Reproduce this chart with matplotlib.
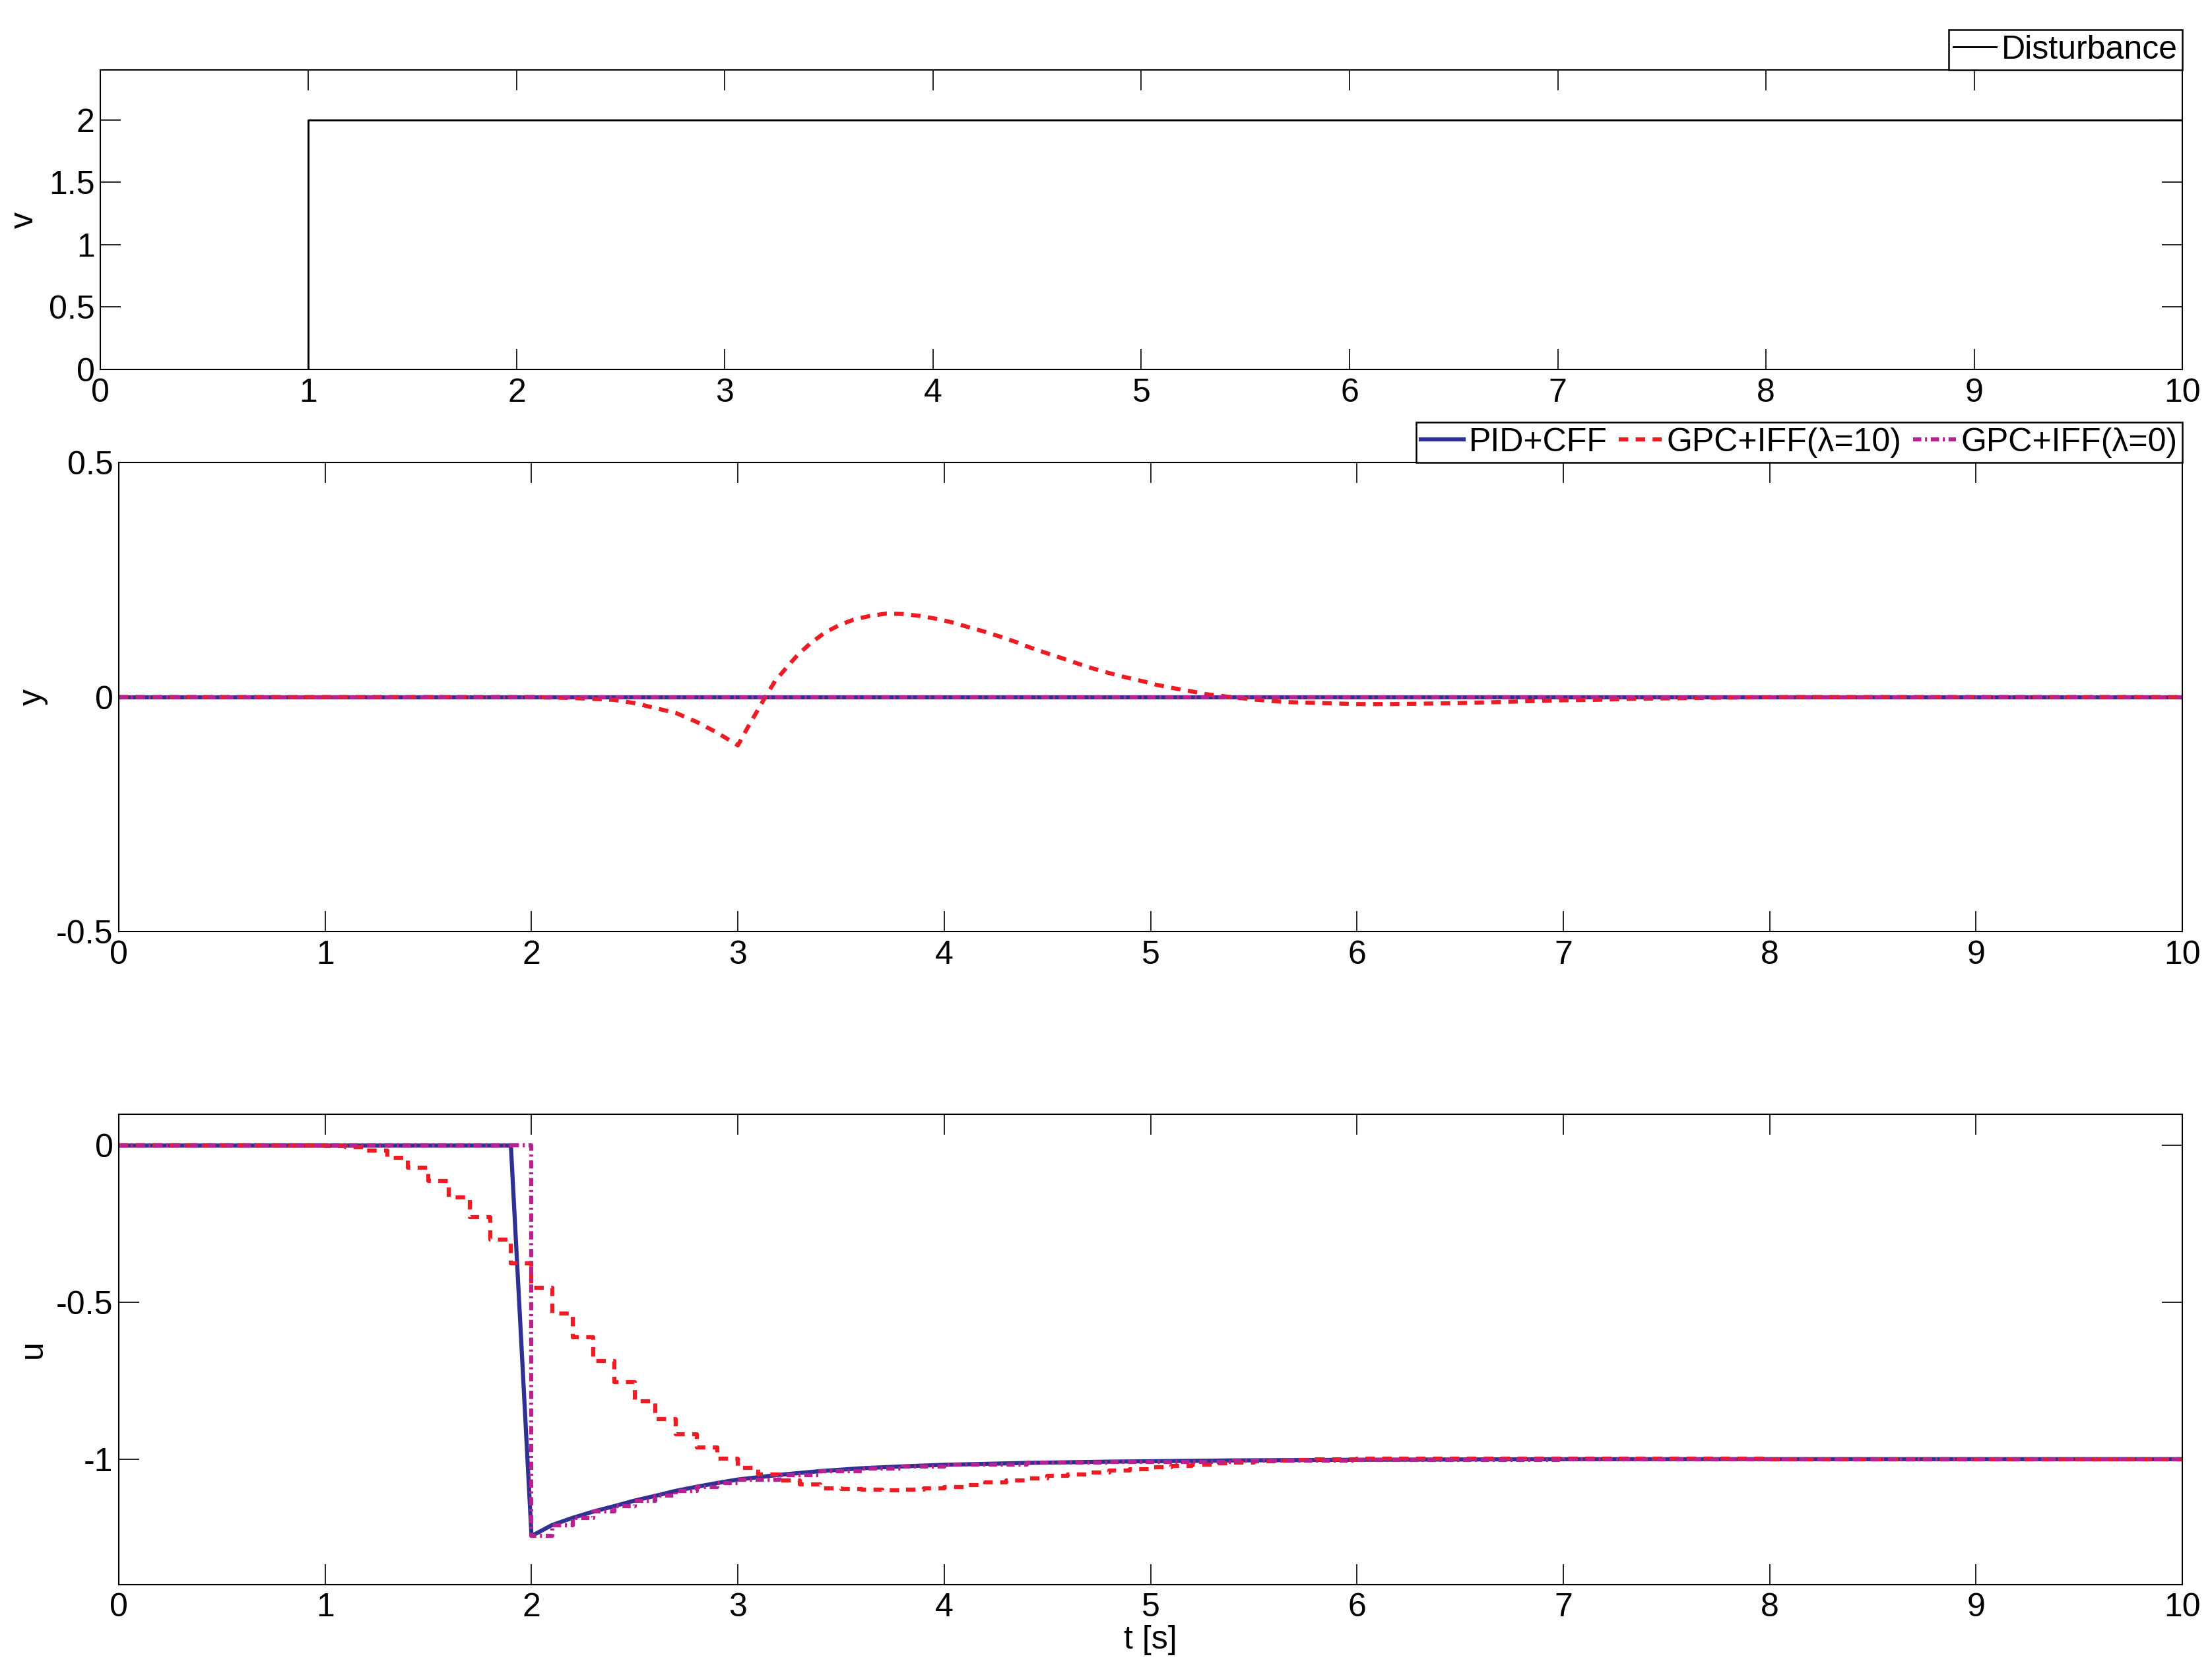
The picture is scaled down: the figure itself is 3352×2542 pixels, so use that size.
import matplotlib
matplotlib.use('Agg')
import matplotlib.pyplot as plt

plt.rcParams['font.family'] = ['Liberation Sans', 'DejaVu Sans']
plt.rcParams['axes.unicode_minus'] = False

# disturbance (top panel)
dist_t = [0.1, 1.0, 10.0]
dist_v = [0.0, 2.0, 2.0]

# output y (middle panel)
y_zero_t = [0.0, 10.0]
y_zero_v = [0.0, 0.0]
y_gpc10_t = [0.0, 2.0, 2.2, 2.4, 2.5, 2.7, 2.8, 2.9, 3.0, 3.05, 3.1, 3.13, 3.18,
             3.24, 3.29, 3.35, 3.42, 3.49, 3.56, 3.64, 3.72, 3.8, 3.88, 3.96,
             4.04, 4.11, 4.19, 4.27, 4.35, 4.42, 4.5, 4.57, 4.65, 4.72, 4.8,
             4.88, 4.96, 5.03, 5.11, 5.2, 5.27, 5.35, 5.43, 5.52, 5.6, 5.68,
             5.84, 6.0, 6.17, 6.33, 6.49, 6.66, 6.82, 6.98, 7.15, 7.31, 7.47,
             7.64, 7.8, 8.1, 10.0]
y_gpc10_v = [0.0, 0.0, -0.002, -0.006, -0.013, -0.034, -0.053, -0.076, -0.103,
             -0.063, -0.025, -0.002, 0.034, 0.065, 0.090, 0.114, 0.137, 0.153,
             0.165, 0.173, 0.178, 0.177, 0.173, 0.167, 0.159, 0.150, 0.140,
             0.129, 0.117, 0.105, 0.093, 0.083, 0.071, 0.061, 0.051, 0.042,
             0.034, 0.026, 0.019, 0.012, 0.006, 0.002, -0.002, -0.006, -0.009,
             -0.011, -0.013, -0.015, -0.015, -0.014, -0.013, -0.011, -0.009,
             -0.007, -0.006, -0.004, -0.003, -0.002, -0.001, 0.0, 0.0]

# control u (bottom panel)
u_pid_t = [0.0, 1.9, 2.0, 2.1, 2.2, 2.3, 2.4, 2.5, 2.6, 2.7, 2.8, 2.9, 3.0,
           3.2, 3.4, 3.6, 3.8, 4.0, 4.4, 4.8, 5.4, 6.0, 7.0, 10.0]
u_pid_v = [0.0, 0.0, -1.245, -1.210, -1.187, -1.167, -1.150, -1.132, -1.117,
           -1.101, -1.088, -1.076, -1.065, -1.050, -1.038, -1.029, -1.023,
           -1.018, -1.012, -1.008, -1.004, -1.002, -1.0, -1.0]
u_gpc0_t = u_pid_t[1:]
u_gpc0_v = [0.0, -1.245, -1.210, -1.187, -1.167, -1.150, -1.132, -1.117,
            -1.101, -1.088, -1.076, -1.065, -1.050, -1.038, -1.029, -1.023,
            -1.018, -1.012, -1.008, -1.004, -1.002, -1.0, -1.0]
u_gpc10_t = [0.0, 1.0, 1.1, 1.2, 1.3, 1.4, 1.5, 1.6, 1.7, 1.8, 1.9, 2.0, 2.1,
             2.2, 2.3, 2.4, 2.5, 2.6, 2.7, 2.8, 2.9, 3.0, 3.1, 3.2, 3.3, 3.4,
             3.5, 3.6, 3.7, 3.8, 3.9, 4.0, 4.1, 4.2, 4.3, 4.4, 4.5, 4.6, 4.7,
             4.8, 4.9, 5.0, 5.1, 5.2, 5.3, 5.4, 5.5, 5.6, 5.7, 5.8, 5.9, 6.0,
             8.0, 10.0]
u_gpc10_v = [0.0, -0.001, -0.005, -0.016, -0.038, -0.070, -0.112, -0.166,
             -0.229, -0.299, -0.376, -0.454, -0.535, -0.612, -0.686, -0.754,
             -0.816, -0.872, -0.921, -0.963, -0.999, -1.027, -1.049, -1.067,
             -1.081, -1.092, -1.096, -1.098, -1.099, -1.097, -1.093, -1.088,
             -1.082, -1.075, -1.068, -1.061, -1.054, -1.048, -1.042, -1.036,
             -1.031, -1.026, -1.021, -1.017, -1.013, -1.010, -1.007, -1.005,
             -1.003, -1.001, -1.000, -0.998, -1.0, -1.0]

x_ticks = [0, 1, 2, 3, 4, 5, 6, 7, 8, 9, 10]

BLUE = '#2E3192'
RED = '#ED1C24'
MAG = '#B8218F'
FS = 12
LW = 1.5


def styleAxes(ax, yticks, ylabels, ylim, label, labx):
    ax.set_xlim(0, 10)
    ax.set_ylim(*ylim)
    ax.set_xticks(x_ticks)
    ax.set_xticklabels([str(t) for t in x_ticks])
    ax.set_yticks(yticks)
    ax.set_yticklabels(ylabels)
    ax.tick_params(direction='in', top=True, right=True, length=7.4,
                   width=0.4, labelsize=FS)
    ax.tick_params(axis='x', pad=3)
    ax.tick_params(axis='y', pad=2)
    for s in ax.spines.values():
        s.set_linewidth(0.5)
    ax.set_ylabel(label, fontsize=FS)
    ax.yaxis.set_label_coords(labx, 0.5)


def addLegend(ax, ncol):
    leg = ax.legend(loc='lower right', bbox_to_anchor=(1.0, 1.0),
                    borderaxespad=0, ncol=ncol, fontsize=FS, fancybox=False,
                    framealpha=1, edgecolor='black', handlelength=1.3,
                    handletextpad=0.15, columnspacing=0.35, borderpad=0.15)
    leg.get_frame().set_linewidth(0.6)


def main():
    fig = plt.figure(figsize=(3353 / 300, 2542 / 300), dpi=300)
    ax1 = fig.add_axes([0.0453, 0.7797, 0.9410, 0.1786])
    ax2 = fig.add_axes([0.0537, 0.4445, 0.9326, 0.2797])
    ax3 = fig.add_axes([0.0537, 0.0551, 0.9326, 0.2805])

    # top: disturbance
    ax1.step(dist_t, dist_v, where='post', color='black', lw=0.7,
             label='Disturbance')
    styleAxes(ax1, [0, 0.5, 1, 1.5, 2], ['0', '0.5', '1', '1.5', '2'],
              (0, 2.4), 'v', -0.0292)
    addLegend(ax1, 1)

    # middle: output
    ax2.plot(y_zero_t, y_zero_v, color=BLUE, lw=LW, label='PID+CFF')
    ax2.plot(y_gpc10_t, y_gpc10_v, color=RED, lw=LW, dashes=(2.3, 1.8),
             label='GPC+IFF(λ=10)')
    ax2.step(y_zero_t, y_zero_v, where='post', color=MAG, lw=LW,
             dashes=(2.0, 0.9, 0.5, 0.9), label='GPC+IFF(λ=0)')
    styleAxes(ax2, [-0.5, 0, 0.5], ['-0.5', '0', '0.5'], (-0.5, 0.5), 'y',
              -0.0342)
    addLegend(ax2, 3)

    # bottom: control signal
    ax3.plot(u_pid_t, u_pid_v, color=BLUE, lw=LW)
    ax3.step(u_gpc10_t, u_gpc10_v, where='post', color=RED, lw=LW,
             dashes=(2.3, 1.8))
    ax3.step(u_gpc0_t, u_gpc0_v, where='post', color=MAG, lw=LW,
             dashes=(2.0, 0.9, 0.5, 0.9))
    ax3.plot([0.0, 1.9], [0.0, 0.0], color=MAG, lw=LW,
             dashes=(2.0, 0.9, 0.5, 0.9))
    styleAxes(ax3, [-1, -0.5, 0], ['-1', '-0.5', '0'], (-1.4, 0.1), 'u',
              -0.0342)
    ax3.set_xlabel('t [s]', fontsize=FS)
    ax3.xaxis.set_label_coords(0.5, -0.085)

    fig.savefig('out.png', dpi=300)


if __name__ == '__main__':
    main()
